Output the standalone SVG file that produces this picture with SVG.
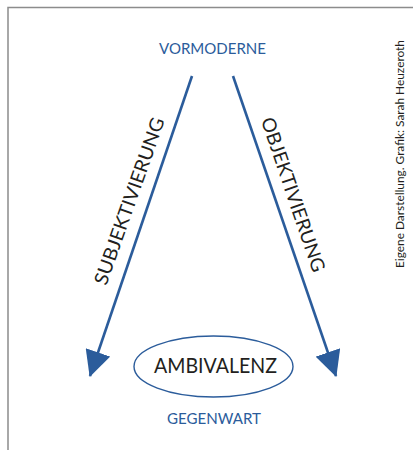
<svg xmlns="http://www.w3.org/2000/svg" width="413" height="450" viewBox="0 0 413 450">
<style>
.blue{fill:#2b5c9b;font-family:Lato,"Open Sans","Liberation Sans",sans-serif}
.dark{fill:#231f20;font-family:Lato,"Open Sans","Liberation Sans",sans-serif}
.conn{stroke:#2b5c9b;stroke-width:2.6;fill:none}
</style>
<defs>
<marker id="ah" markerUnits="userSpaceOnUse" viewBox="0 0 26 26" markerWidth="26" markerHeight="26" refX="25" refY="13" orient="auto">
<path d="M0,0 L26,13 L0,26 z" fill="#2b5c9b"/>
</marker>
</defs>
<rect width="413" height="450" fill="#fff"/>
<g id="frame" stroke="#8c8c8c" stroke-width="1.5" fill="none">
<path d="M8,450 V7.5 H413"/>
</g>
<g id="connectors">
<line class="conn" x1="192" y1="76" x2="90" y2="376" marker-end="url(#ah)"/>
<line class="conn" x1="233" y1="76" x2="336" y2="376" marker-end="url(#ah)"/>
<text class="dark" font-size="19" text-anchor="middle" textLength="176" lengthAdjust="spacingAndGlyphs" transform="translate(135.6,203.3) rotate(-70.5)">SUBJEKTIVIERUNG</text>
<text class="dark" font-size="19" text-anchor="middle" textLength="162" lengthAdjust="spacingAndGlyphs" transform="translate(286.9,196.8) rotate(71.2)">OBJEKTIVIERUNG</text>
</g>
<g id="vormoderne">
<text class="blue" x="212.5" y="54" font-size="15" text-anchor="middle" textLength="107" lengthAdjust="spacingAndGlyphs">VORMODERNE</text>
</g>
<g id="ambivalenz">
<ellipse cx="213.5" cy="366.5" rx="79.5" ry="30.5" fill="none" stroke="#2b5c9b" stroke-width="1.4"/>
<text class="dark" x="215.5" y="373" font-size="21" text-anchor="middle" textLength="123" lengthAdjust="spacingAndGlyphs">AMBIVALENZ</text>
</g>
<g id="gegenwart">
<text class="blue" x="214" y="424" font-size="15" text-anchor="middle" textLength="94" lengthAdjust="spacingAndGlyphs">GEGENWART</text>
</g>
<g id="credit">
<text class="dark" font-size="11" text-anchor="middle" textLength="228" lengthAdjust="spacingAndGlyphs" transform="translate(404,154) rotate(-90)">Eigene Darstellung. Grafik: Sarah Heuzeroth</text>
</g>
</svg>
